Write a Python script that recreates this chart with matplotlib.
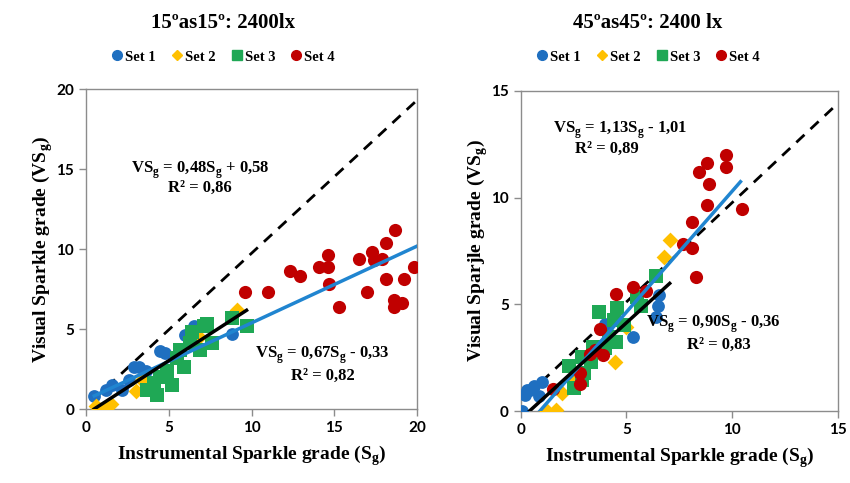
import matplotlib
matplotlib.use("Agg")
import matplotlib.pyplot as plt
from matplotlib.lines import Line2D

plt.rcParams['font.family'] = ['Liberation Serif', 'DejaVu Serif']
plt.rcParams['font.weight'] = 'bold'

# ---------------- data ----------------
# Left panel: 15°as15°
L_s1_x = [0.5, 1.2, 1.6, 2.2, 2.6, 2.9, 3.2, 3.6, 4.5, 4.8, 6.0, 6.5, 8.8]
L_s1_y = [0.8, 1.2, 1.5, 1.2, 1.8, 2.6, 2.6, 2.4, 3.6, 3.5, 4.6, 5.2, 4.7]
L_s2_x = [0.6, 1.0, 1.5, 3.0, 3.4, 6.8, 9.1]
L_s2_y = [0.2, 0.0, 0.3, 1.1, 1.8, 4.5, 6.2]
L_s3_x = [3.7, 4.1, 4.3, 4.5, 4.9, 5.2, 5.5, 5.7, 6.3, 6.4, 6.9, 7.1, 7.3, 7.6, 8.8, 9.7, 5.9]
L_s3_y = [1.2, 1.6, 0.9, 2.0, 2.4, 1.5, 3.2, 3.7, 4.1, 4.8, 3.7, 5.2, 5.3, 4.1, 5.7, 5.2, 2.6]
L_s4_x = [9.6, 11.0, 12.3, 12.9, 14.1, 14.6, 14.6, 14.7, 15.3, 16.5, 17.0, 17.3, 17.4,
          17.9, 18.1, 18.7, 18.1, 18.6, 18.6, 19.1, 19.2, 19.8]
L_s4_y = [7.3, 7.3, 8.6, 8.3, 8.9, 8.9, 9.6, 7.8, 6.4, 9.4, 7.3, 9.8, 9.3,
          9.4, 10.4, 11.2, 8.1, 6.8, 6.4, 6.6, 8.1, 8.9]

# Right panel: 45°as45°
R_s1_x = [0.05, 0.2, 0.45, 0.65, 1.0, 0.85, 0.3, 2.5, 4.2, 4.0, 5.3, 6.4, 6.5, 6.55]
R_s1_y = [0.0, 0.75, 1.0, 1.2, 1.35, 0.7, 1.0, 1.45, 3.6, 4.1, 3.5, 4.4, 4.95, 5.45]
R_s2_x = [1.2, 1.65, 1.95, 2.6, 4.45, 5.0, 6.8, 7.05]
R_s2_y = [0.05, 0.05, 0.85, 1.4, 2.3, 3.95, 7.2, 8.0]
R_s3_x = [2.3, 2.5, 2.9, 2.9, 3.0, 3.35, 3.4, 3.7, 4.0, 4.2, 4.4, 4.5, 4.55, 4.9, 5.5, 5.7, 6.4]
R_s3_y = [2.1, 1.1, 1.45, 2.55, 1.8, 2.3, 3.0, 4.65, 2.95, 3.5, 4.25, 3.25, 4.85, 4.05, 5.35, 4.95, 6.35]
R_s4_x = [1.55, 2.8, 2.8, 3.3, 3.5, 3.9, 3.75, 4.5, 5.3, 5.95, 7.7, 8.1, 8.1, 8.3, 8.8,
          8.9, 8.45, 8.8, 9.7, 9.7, 10.45]
R_s4_y = [1.05, 1.3, 1.8, 2.7, 2.85, 2.65, 3.85, 5.5, 5.8, 5.65, 7.85, 7.65, 8.85, 6.3, 9.65,
          10.65, 11.2, 11.6, 11.45, 12.0, 9.45]

# fit lines (slope, intercept, x-range)
L_all_fit = (0.48, 0.58, [0.5, 20.0])
L_low_fit = (0.67, -0.33, [0.5, 9.7])
R_all_fit = (1.13, -1.01, [0.9, 10.4])
R_low_fit = (0.90, -0.36, [0.4, 7.05])
L_ref_x, L_ref_y = [0.4, 20.0], [0.55, 19.3]
R_ref_x, R_ref_y = [0.3, 15.0], [0.75, 14.4]

titles = ["15\u00baas15\u00ba: 2400lx", "45\u00baas45\u00ba: 2400 lx"]
ylabels = ["Visual Sparkle grade (VS$_\\mathregular{g}$)", "Visual Sparjle grade (VS$_\\mathregular{g}$)"]
xlabel = "Instrumental Sparkle grade (S$_\\mathregular{g}$)"
set_names = ["Set 1", "Set 2", "Set 3", "Set 4"]

C_BLUE = "#1F6FC0"
C_YEL = "#FFC000"
C_GRN = "#1FA855"
C_RED = "#C00000"
C_LINE = "#2085D0"

fig = plt.figure(figsize=(8.5, 4.83), dpi=100)
axL = fig.add_axes([0.1012, 0.1532, 0.3894, 0.6625])
axR = fig.add_axes([0.6126, 0.1484, 0.3729, 0.6638])


def draw(ax, sets, ref, fit_all, fit_low, lim, ticks, title, ylabel, leg_x, eqs):
    ax.plot(ref[0], ref[1], color='black', lw=2, dashes=(4, 3), zorder=1)
    (x1, y1), (x2, y2), (x3, y3), (x4, y4) = sets
    ax.scatter(x1, y1, s=85, marker='o', color=C_BLUE, zorder=3, linewidths=0)
    ax.scatter(x2, y2, s=65, marker='D', color=C_YEL, zorder=3, linewidths=0)
    ax.scatter(x3, y3, s=90, marker='s', color=C_GRN, zorder=3, linewidths=0)
    ax.scatter(x4, y4, s=90, marker='o', color=C_RED, zorder=3, linewidths=0)
    m, b, xr = fit_all
    ax.plot(xr, [m * v + b for v in xr], color=C_LINE, lw=2.5, zorder=4)
    m, b, xr = fit_low
    ax.plot(xr, [m * v + b for v in xr], color='black', lw=2.5, zorder=5)
    ax.set_xlim(lim)
    ax.set_ylim(lim)
    ax.set_xticks(ticks)
    ax.set_yticks(ticks)
    for sp in ax.spines.values():
        sp.set_color('#8c8c8c')
        sp.set_linewidth(1)
    ax.tick_params(colors='#8c8c8c', length=5, width=1, labelcolor='black')
    for lab in ax.get_xticklabels() + ax.get_yticklabels():
        lab.set_fontfamily('Lato')
        lab.set_fontweight('bold')
        lab.set_fontsize(11)
    ax.set_xlabel(xlabel, fontsize=14, fontweight='bold', labelpad=6)
    ax.set_ylabel(ylabel, fontsize=14, fontweight='bold', labelpad=1)
    for (tx, ty, eq, rx, ry, r2) in eqs:
        ax.text(tx, ty, eq, ha='center', va='center', fontsize=12, fontweight='bold', zorder=6)
        ax.text(rx, ry, r2, ha='center', va='center', fontsize=12, fontweight='bold', zorder=6)
    fig.text(leg_x, 0.953, title, ha='center', va='center', fontsize=15, fontweight='bold')
    handles = [
        Line2D([], [], ls='', marker='o', color=C_BLUE, markersize=7),
        Line2D([], [], ls='', marker='D', color=C_YEL, markersize=5),
        Line2D([], [], ls='', marker='s', color=C_GRN, markersize=7),
        Line2D([], [], ls='', marker='o', color=C_RED, markersize=7),
    ]
    fig.legend(handles, set_names, loc='center', bbox_to_anchor=(leg_x, 0.882), ncol=4,
               frameon=False, handletextpad=0.1, columnspacing=1.0, handlelength=0.9,
               prop={'family': 'Liberation Serif', 'weight': 'bold', 'size': 10.5})


draw(axL, [(L_s1_x, L_s1_y), (L_s2_x, L_s2_y), (L_s3_x, L_s3_y), (L_s4_x, L_s4_y)],
     (L_ref_x, L_ref_y), L_all_fit, L_low_fit, (0, 20), [0, 5, 10, 15, 20],
     titles[0], ylabels[0], 0.262,
     [(6.9, 14.9, "VS$_\\mathregular{g}$ = 0,48S$_\\mathregular{g}$ + 0,58", 6.9, 13.8, "R\u00b2 = 0,86"),
      (14.3, 3.35, "VS$_\\mathregular{g}$ = 0,67S$_\\mathregular{g}$ - 0,33", 14.3, 2.1, "R\u00b2 = 0,82")])

draw(axR, [(R_s1_x, R_s1_y), (R_s2_x, R_s2_y), (R_s3_x, R_s3_y), (R_s4_x, R_s4_y)],
     (R_ref_x, R_ref_y), R_all_fit, R_low_fit, (0, 15), [0, 5, 10, 15],
     titles[1], ylabels[1], 0.762,
     [(4.7, 13.15, "VS$_\\mathregular{g}$ = 1,13S$_\\mathregular{g}$ - 1,01", 4.1, 12.3, "R\u00b2 = 0,89"),
      (9.1, 4.05, "VS$_\\mathregular{g}$ = 0,90S$_\\mathregular{g}$ - 0,36", 9.4, 3.1, "R\u00b2 = 0,83")])

fig.savefig("out.png", dpi=100)
